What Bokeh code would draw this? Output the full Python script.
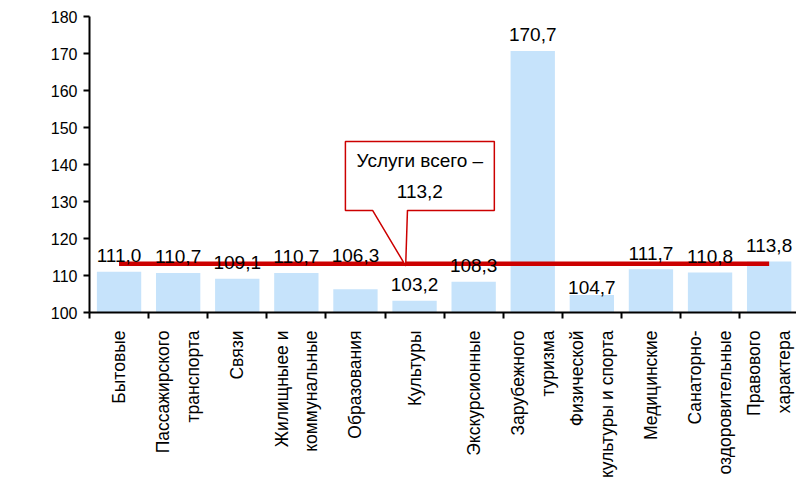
import math
from bokeh.plotting import figure
from bokeh.models import FixedTicker, Range1d, Label, ColumnDataSource
from bokeh.core.properties import value
from bokeh.embed import file_html
from bokeh.resources import INLINE

categories = [
    "Бытовые",
    "Пассажирского\nтранспорта",
    "Связи",
    "Жилищныее и\nкоммунальные",
    "Образования",
    "Культуры",
    "Экскурсионные",
    "Зарубежного\nтуризма",
    "Физической\nкультуры и спорта",
    "Медицинские",
    "Санаторно-\nоздоровительные",
    "Правового\nхарактера",
]
values = [111.0, 110.7, 109.1, 110.7, 106.3, 103.2, 108.3, 170.7, 104.7, 111.7, 110.8, 113.8]
total_value = 113.2
total_label = "Услуги всего –\n113,2"
y_ticks = [100, 110, 120, 130, 140, 150, 160, 170, 180]
y_axis_title = "процентов"

# styling: vertical pixel offset of each value label above its bar top
label_offsets = [-16, -16, -16, -16, -34, -16, -16, -16, -8, -16, -16, -16]

FONT = "Liberation Sans"
BAR_COLOR = "#C6E3FB"
RED = "#CC0000"

n = len(categories)
xs = list(range(n))
labels = [f"{v:.1f}".replace(".", ",") for v in values]

src = ColumnDataSource(dict(x=xs, top=values, lab=labels, off=label_offsets))

LEFT = 89
p = figure(width=796, height=482, output_backend="svg", toolbar_location=None,
           x_range=Range1d(-0.5, -0.5 + (796 - LEFT) / 59.1), y_range=Range1d(100, 180),
           min_border_left=LEFT, min_border_right=0, min_border_top=16, min_border_bottom=170)
p.outline_line_color = None
p.grid.visible = False
p.background_fill_color = "white"

p.vbar(x="x", top="top", bottom=100, width=0.75, source=src,
       fill_color=BAR_COLOR, line_color=None)

# total line
p.line(x=[xs[0], xs[-1]], y=[total_value, total_value], line_color=RED, line_width=4.5)

# value labels
p.text(x="x", y="top", text="lab", source=src, text_align="center", text_baseline="alphabetic",
       y_offset="off", text_font=value(FONT), text_font_size="19px", text_color="black")

# callout box with pointer
bx0, bx1, by0, by1 = 3.83, 6.35, 127.6, 146.2
px0, px1, tipx = 4.29, 4.88, 4.85
p.patch(x=[bx0, px0, tipx, px1, bx1, bx1, bx0],
        y=[by0, by0, total_value - 0.6, by0, by0, by1, by1],
        fill_color="white", line_color=RED, line_width=1.5)
p.text(x=[(bx0 + bx1) / 2], y=[(by0 + by1) / 2], text=[total_label],
       text_align="center", text_baseline="middle", text_line_height=1.45,
       text_font=value(FONT), text_font_size="19px", text_color="black")

# axes
xa = p.xaxis[0]
xa.ticker = FixedTicker(ticks=xs, minor_ticks=[i - 0.5 for i in range(n + 1)])
xa.major_label_overrides = {i: c for i, c in enumerate(categories)}
xa.major_label_orientation = math.pi / 2
xa.major_tick_line_color = None
xa.major_tick_out = 0
xa.minor_tick_in = 0
xa.minor_tick_out = 6
xa.minor_tick_line_width = 2
xa.minor_tick_line_color = "black"
xa.axis_line_width = 2
xa.axis_line_color = "black"
xa.major_label_standoff = 12
xa.major_label_text_font = FONT
xa.major_label_text_font_size = "17.5px"
xa.major_label_text_line_height = 1.48
xa.major_label_text_color = "black"

ya = p.yaxis[0]
ya.ticker = FixedTicker(ticks=y_ticks)
ya.minor_tick_line_color = None
ya.major_tick_in = 0
ya.major_tick_out = 6
ya.major_tick_line_width = 2
ya.axis_line_width = 2
ya.axis_line_color = "black"
ya.major_label_text_font = FONT
ya.major_label_text_font_size = "16px"
ya.major_label_text_color = "black"
ya.major_label_standoff = 6

p.add_layout(Label(x=-73, y=113, x_units="screen", y_units="screen", text=y_axis_title,
                   angle=math.pi / 2, text_align="center", text_baseline="middle",
                   text_font=FONT, text_font_size="16px", text_color="black"))

open("out.html", "w").write(file_html(p, INLINE))
